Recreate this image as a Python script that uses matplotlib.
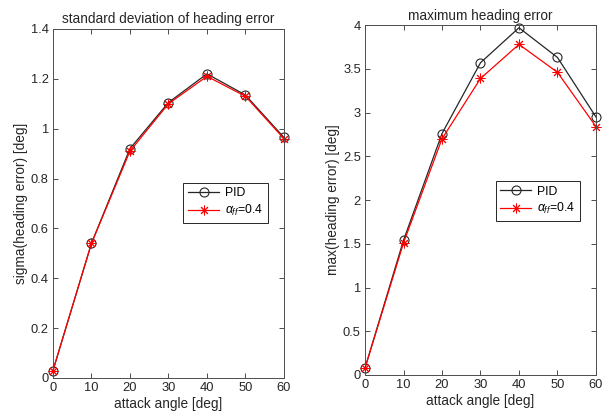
import matplotlib
matplotlib.use('Agg')
import matplotlib.pyplot as plt

plt.rcParams['font.family'] = ['Liberation Sans', 'DejaVu Sans']
plt.rcParams['mathtext.fontset'] = 'custom'
plt.rcParams['mathtext.it'] = 'Liberation Sans:italic'
plt.rcParams['mathtext.rm'] = 'Liberation Sans'

angles = [0, 10, 20, 30, 40, 50, 60]

sigma_pid = [0.03, 0.54, 0.92, 1.105, 1.22, 1.135, 0.965]
sigma_ff = [0.03, 0.54, 0.91, 1.10, 1.21, 1.13, 0.96]

max_pid = [0.08, 1.54, 2.76, 3.57, 3.97, 3.63, 2.95]
max_ff = [0.08, 1.51, 2.70, 3.39, 3.78, 3.46, 2.84]

label_pid = 'PID'
label_ff = r'$\alpha_{ff}$=0.4'

GREY = '#262626'
TICK_GREY = '#4d4d4d'
STAR = (8, 2, 0)  # eight-spoke asterisk


def style_axes(ax, yticks, ylim):
    ax.set_xlim(0, 60)
    ax.set_ylim(*ylim)
    ax.set_xticks(angles)
    ax.set_yticks(yticks)
    ax.set_yticklabels([f'{t:g}' for t in yticks])
    ax.tick_params(direction='in', top=True, right=True, length=3.5, width=0.7,
                   labelsize=9.3, colors=TICK_GREY, labelcolor=GREY, pad=3)
    for spine in ax.spines.values():
        spine.set_color(TICK_GREY)
        spine.set_linewidth(0.7)
    ax.set_xlabel('attack angle [deg]', fontsize=9.8, color=GREY, labelpad=2)


def plot_pair(ax, pid, ff, title, ylabel, legend_anchor):
    ax.plot(angles, pid, color='#262626', lw=0.9, marker='o', ms=6.5,
            mfc='none', mec='#262626', mew=0.8, label=label_pid, clip_on=False)
    ax.plot(angles, ff, color='red', lw=0.9, marker=STAR, ms=7,
            mfc='red', mec='red', mew=0.7, label=label_ff, clip_on=False)
    ax.set_title(title, fontsize=9.8, color=GREY, pad=4)
    ax.set_ylabel(ylabel, fontsize=9.8, color=GREY, labelpad=2)
    leg = ax.legend(loc='upper left', bbox_to_anchor=legend_anchor, fontsize=8.8,
                    fancybox=False, framealpha=1, edgecolor=GREY,
                    handlelength=2.5, borderpad=0.4, labelspacing=0.3,
                    handletextpad=0.5, borderaxespad=0)
    leg.get_frame().set_linewidth(0.7)


fig = plt.figure(figsize=(6.11, 4.18), dpi=100)

ax1 = fig.add_axes([0.0867, 0.0957, 0.378, 0.835])
plot_pair(ax1, sigma_pid, sigma_ff, 'standard deviation of heading error',
          'sigma(heading error) [deg]', (0.565, 0.56))
style_axes(ax1, [0, 0.2, 0.4, 0.6, 0.8, 1, 1.2, 1.4], (0, 1.4))

ax2 = fig.add_axes([0.5974, 0.1029, 0.378, 0.837])
plot_pair(ax2, max_pid, max_ff, 'maximum heading error',
          'max(heading error) [deg]', (0.565, 0.555))
style_axes(ax2, [0, 0.5, 1, 1.5, 2, 2.5, 3, 3.5, 4], (0, 4))

fig.savefig('out.png', dpi=100)
